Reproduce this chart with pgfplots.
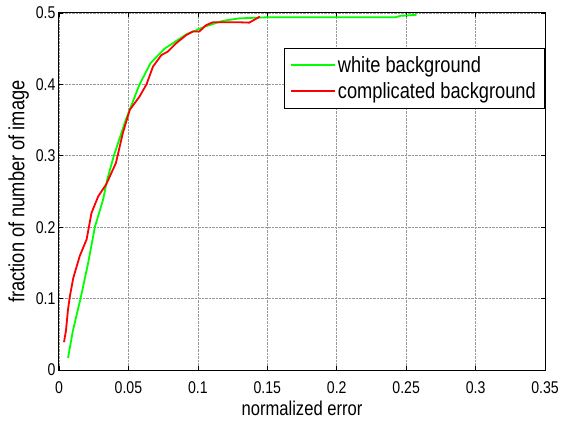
\documentclass[border=0pt]{standalone}
\usepackage{pgfplots}
\pgfplotsset{compat=1.18}
\usepackage{fontspec}
\setmainfont{Liberation Sans}[FakeStretch=0.83]

\definecolor{mgreen}{RGB}{0,255,0}
\definecolor{mred}{RGB}{255,0,0}

\begin{document}
\begin{tikzpicture}
  \useasboundingbox (-59pt,-55pt) rectangle (502pt,370pt);
  \begin{axis}[
      scale only axis,
      width=486pt, height=357pt,
      xmin=0, xmax=0.35, ymin=0, ymax=0.5,
      xtick={0,0.05,...,0.35},
      ytick={0,0.1,...,0.5},
      xticklabels={0,0.05,0.1,0.15,0.2,0.25,0.3,0.35},
      yticklabels={0,0.1,0.2,0.3,0.4,0.5},
      tick align=inside,
      tick style={black, line width=0.6pt},
      major tick length=4pt,
      tick label style={font=\fontsize{17}{18}\selectfont},
      xticklabel style={yshift=-8pt},
      xlabel={normalized error},
      ylabel={fraction of number of image},
      xlabel style={font=\fontsize{20}{22}\selectfont, yshift=-1pt},
      ylabel style={font=\fontsize{22}{24}\selectfont},
      grid=major,
      grid style={densely dotted, gray!80, line width=0.6pt},
      axis line style={black, line width=1pt},
      legend style={
        at={(0.998,0.902)}, anchor=north east,
        font=\fontsize{22}{26}\selectfont,
        draw=black,
        inner xsep=6pt, inner ysep=6pt,
        row sep=5pt,
        cells={anchor=west},
      },
      legend image code/.code={%
        \draw[mark repeat=2, mark phase=2, #1]
          plot coordinates {(0pt,0pt) (22pt,0pt) (44pt,0pt)};},
      legend image post style={line width=1.8pt},
    ]
    \addplot[color=mgreen, line width=1.8pt] coordinates {
      (0.0065,0.017) (0.0100,0.055) (0.0155,0.100) (0.0210,0.150)
      (0.0258,0.200) (0.0318,0.239) (0.0345,0.265) (0.0395,0.300)
      (0.0480,0.350) (0.0580,0.400) (0.0660,0.430) (0.0760,0.450)
      (0.0916,0.470) (0.1050,0.481) (0.1180,0.489) (0.1300,0.4925)
      (0.1500,0.494) (0.2000,0.494) (0.2420,0.494) (0.2460,0.496)
      (0.2500,0.4965) (0.2575,0.4975)
    };
    \addlegendentry{white background}
    \addplot[color=mred, line width=1.8pt] coordinates {
      (0.0036,0.039) (0.0050,0.055) (0.0065,0.085) (0.0079,0.104)
      (0.0103,0.129) (0.0150,0.160) (0.0199,0.183) (0.0234,0.220)
      (0.0282,0.243) (0.0340,0.260) (0.0410,0.290) (0.0460,0.332)
      (0.0510,0.3645) (0.0580,0.383) (0.0630,0.400) (0.0677,0.425)
      (0.0737,0.441) (0.0784,0.446) (0.0844,0.4577) (0.0916,0.469)
      (0.0963,0.474) (0.1010,0.474) (0.1060,0.483) (0.1107,0.487)
      (0.1300,0.487) (0.1370,0.4865) (0.1447,0.495)
    };
    \addlegendentry{complicated background}
  \end{axis}
\end{tikzpicture}
\end{document}
